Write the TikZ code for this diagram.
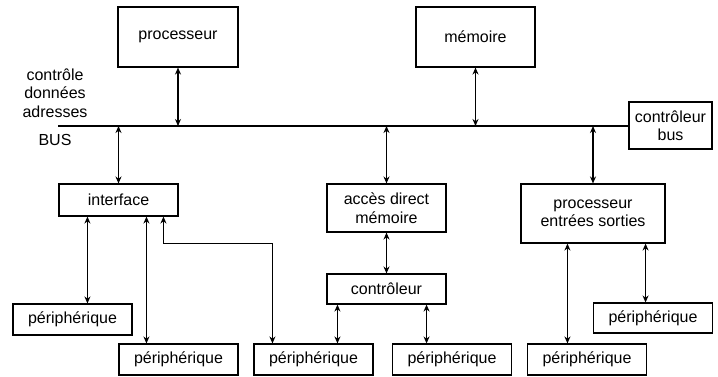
\documentclass[tikz,border=0pt]{standalone}
\usepackage{fontspec}
\setmainfont{Liberation Sans}
\usetikzlibrary{positioning,arrows.meta}
\tikzset{
  bidir/.style={{Stealth[length=7pt,width=6pt]}-{Stealth[length=7pt,width=6pt]}, line width=1.5pt},
  busline/.style={line width=1.2pt},
  unitbox/.style={draw, line width=1.1pt, minimum width=119pt, align=center, inner sep=2pt},
  buslabel/.style={align=center, inner sep=0pt}
}

\begin{document}
\begin{tikzpicture}[x=1pt, y=-1pt, every node/.style={font=\fontsize{16}{18.5}\selectfont}]
  \useasboundingbox (0,0) rectangle (718,376);
  % units on top of the bus
  \node[unitbox, minimum width=120pt, minimum height=60pt] (proc) at (178,37) {processeur};
  \node[unitbox, minimum height=60pt] (mem) at (475.5,37) {mémoire};
  \node[unitbox, minimum width=83pt, minimum height=47pt] (ctlbus) at (670.5,125.5) {contrôleur\\bus};
  \coordinate (busL) at (58,126);
  \draw[busline] (busL) -- (busL -| ctlbus.west);
  \node[buslabel] (sig) at (55,93) {contrôle\\données\\adresses};
  \node[buslabel] (bus) at (55,140) {BUS};
  % units below the bus
  \node[unitbox, minimum height=32pt] (iface) at (118.5,200) {interface};
  \node[unitbox, minimum height=48pt] (dma) at (386.5,208) {accès direct\\mémoire};
  \node[unitbox, minimum width=144pt, minimum height=59pt] (iop) at (593,213.5) {processeur\\entrées sorties};
  \node[unitbox, minimum height=30pt] (ctl) at (386.5,289) {contrôleur};
  % peripherals
  \node[unitbox, minimum height=31pt] (per1) at (72.5,319.5) {périphérique};
  \node[unitbox, minimum height=31pt] (per2) at (178.5,359.5) {périphérique};
  \node[unitbox, minimum height=31pt] (per3) at (313.5,359.5) {périphérique};
  \node[unitbox, minimum height=31pt] (per4) at (452,359.5) {périphérique};
  \node[unitbox, minimum height=31pt] (per5) at (587,359.5) {périphérique};
  \node[unitbox, minimum height=30pt] (per6) at (653,318) {périphérique};
  % links to the bus
  \draw[bidir] (proc.south) -- (proc.south |- busL);
  \draw[bidir] (mem.south) -- (mem.south |- busL);
  \draw[bidir] (iface.north |- busL) -- (iface.north);
  \draw[bidir] (dma.north |- busL) -- (dma.north);
  \draw[bidir] (iop.north |- busL) -- (iop.north);
  % links to the peripherals
  \coordinate (i1) at ([xshift=29pt]iface.south west);
  \coordinate (i2) at ([xshift=88pt]iface.south west);
  \coordinate (i3) at ([xshift=105pt]iface.south west);
  \coordinate (p3a) at ([xshift=19pt]per3.north west);
  \draw[bidir] (i1) -- (i1 |- per1.north);
  \draw[bidir] (i2) -- (i2 |- per2.north);
  \draw[bidir] (i3) -- ++(0,27) -| (p3a);
  \draw[bidir] (dma.south) -- (ctl.north);
  \coordinate (c1) at ([xshift=11pt]ctl.south west);
  \coordinate (c2) at ([xshift=-20pt]ctl.south east);
  \draw[bidir] (c1) -- (c1 |- per3.north);
  \draw[bidir] (c2) -- (c2 |- per4.north);
  \coordinate (o1) at ([xshift=47pt]iop.south west);
  \coordinate (o2) at ([xshift=-20pt]iop.south east);
  \draw[bidir] (o1) -- (o1 |- per5.north);
  \draw[bidir] (o2) -- (o2 |- per6.north);
\end{tikzpicture}
\end{document}
